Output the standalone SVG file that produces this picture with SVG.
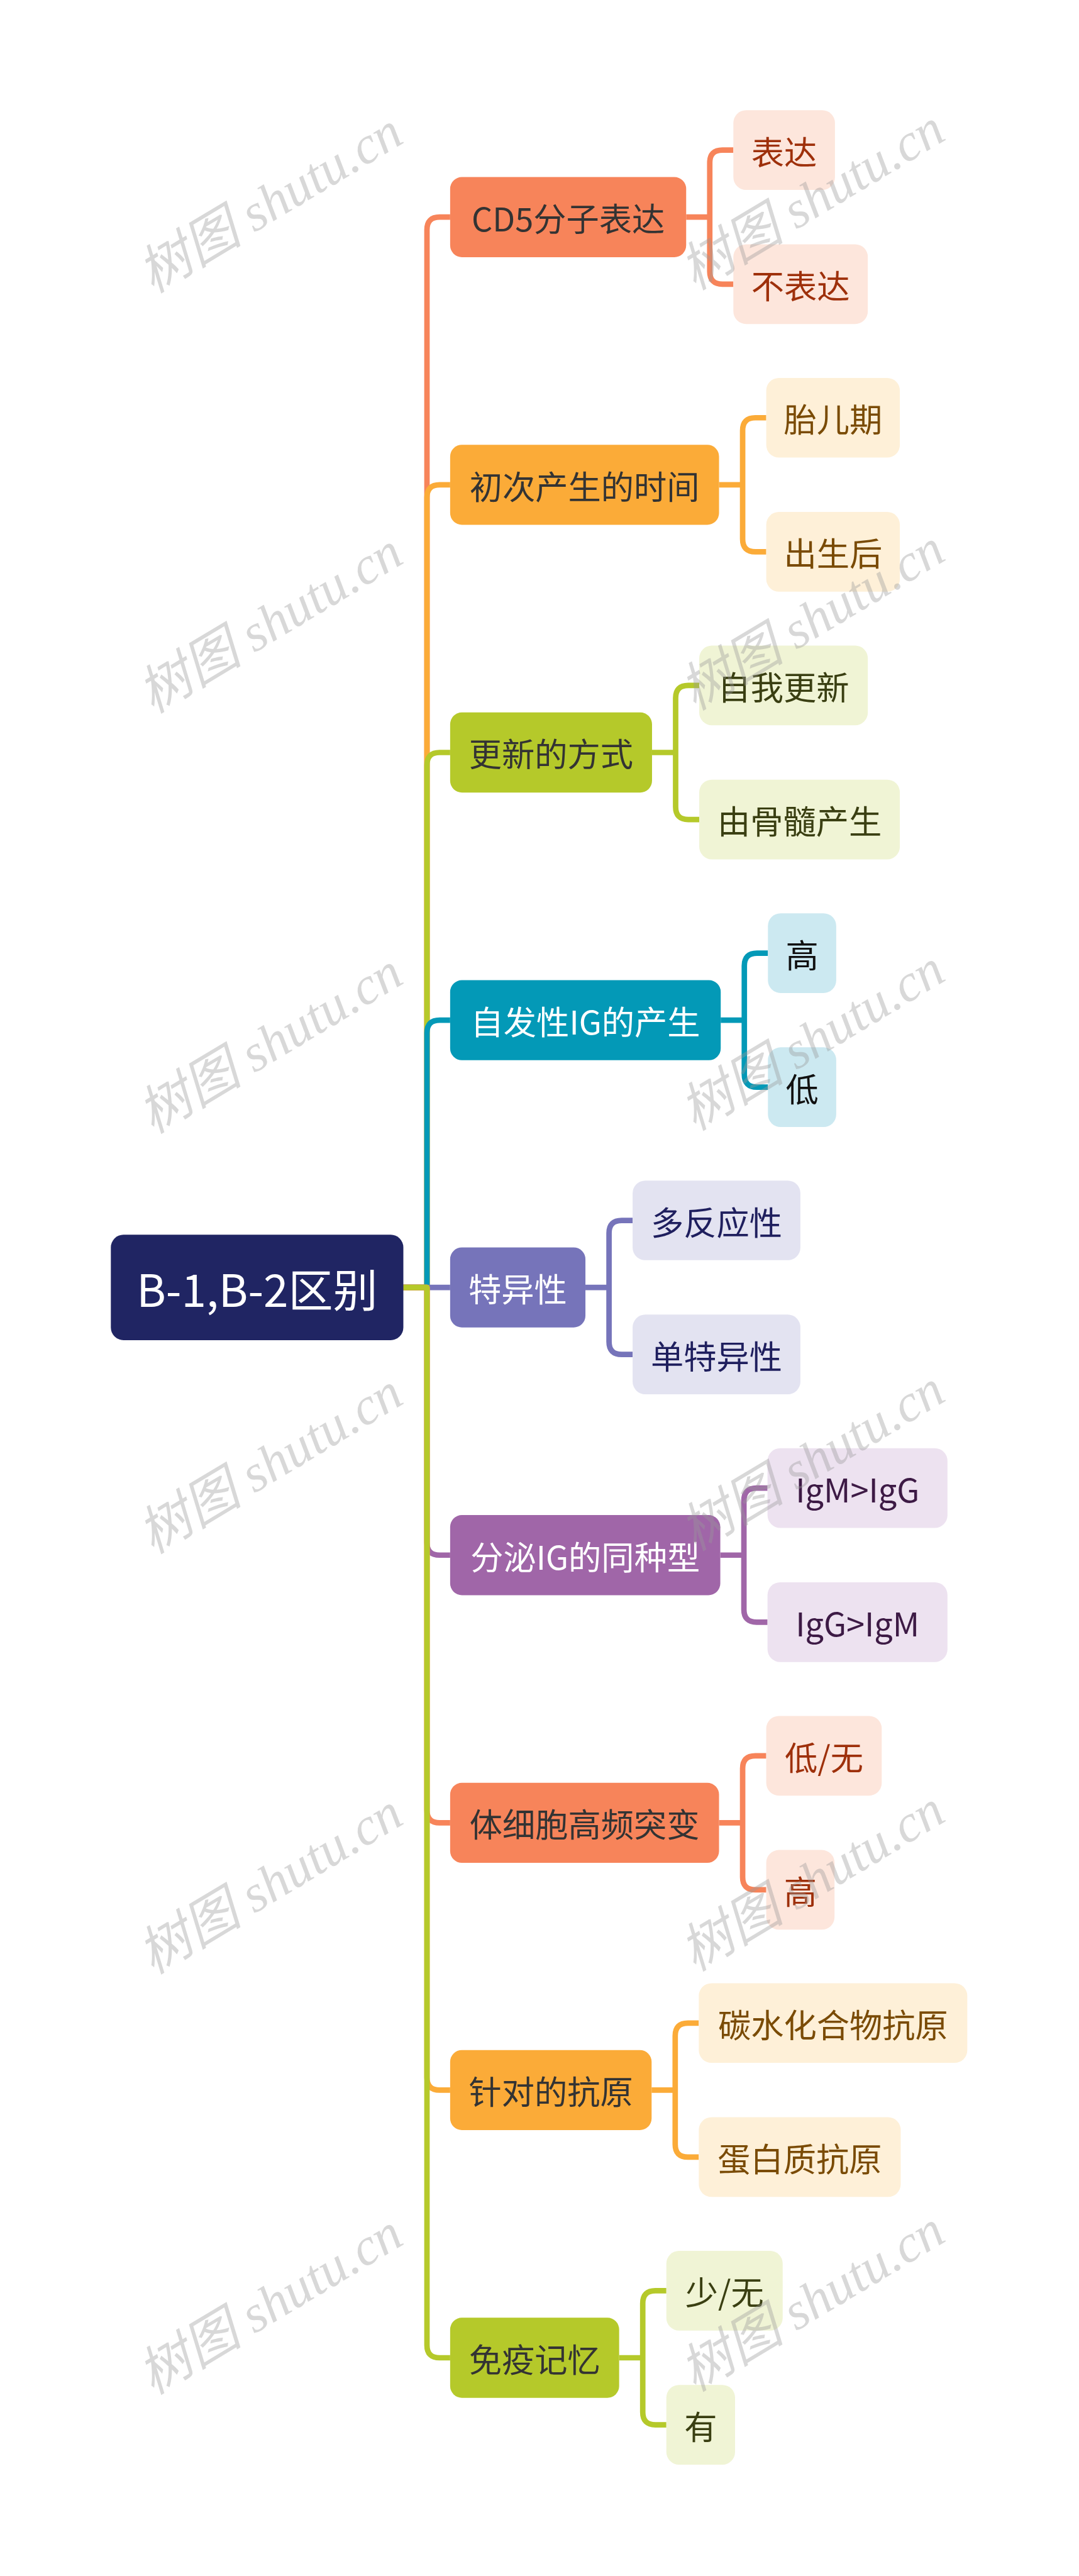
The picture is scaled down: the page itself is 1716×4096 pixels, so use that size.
<svg xmlns="http://www.w3.org/2000/svg" width="1716" height="4096" viewBox="0 0 1716 4096">
<style>
.t{font-family:"Noto Sans CJK SC","Noto Sans",sans-serif;text-anchor:middle;dominant-baseline:central;font-size:78px}
.r{font-size:106px;fill:#ffffff}
.c{fill:none;stroke-width:13;stroke-linejoin:round}
.dk{fill:#333333}
.w{fill:#ffffff}
.o{stroke:#f7845a}.y{stroke:#fbab38}.g{stroke:#b5c92a}.tl{stroke:#0399b7}.b{stroke:#7674ba}.p{stroke:#a066a8}
.co{fill:#fde6dc}.cy{fill:#fef0d8}.cg{fill:#f0f4d5}.ct{fill:#cce9f1}.cb{fill:#e3e3f1}.cp{fill:#ede2f0}
.to{fill:#9e300b}.ty{fill:#7a4b05}.tg{fill:#3a3f12}.tt{fill:#111111}.tb{fill:#1f1f5e}.tp{fill:#3d1a45}
.wm{font-family:"Liberation Serif","Noto Sans CJK SC",serif;font-style:italic;font-size:125px;fill:#9a9a9a;opacity:.38}
</style>
<rect width="1716" height="4096" fill="#ffffff"/>
<g transform="scale(0.6703)">
<g id="connectors">
<path class="c o" d="M957,3054 H1013 V545 Q1013,515 1043,515 H1068"/>
<path class="c y" d="M957,3054 H1013 V1180 Q1013,1150 1043,1150 H1068"/>
<path class="c g" d="M957,3054 H1013 V1815 Q1013,1785 1043,1785 H1068"/>
<path class="c tl" d="M957,3054 H1013 V2450 Q1013,2420 1043,2420 H1068"/>
<path class="c b" d="M957,3054 H1068"/>
<path class="c p" d="M957,3054 H1013 V3659 Q1013,3689 1043,3689 H1068"/>
<path class="c o" d="M957,3054 H1013 V4294 Q1013,4324 1043,4324 H1068"/>
<path class="c y" d="M957,3054 H1013 V4928 Q1013,4958 1043,4958 H1068"/>
<path class="c g" d="M957,3054 H1013 V5563 Q1013,5593 1043,5593 H1068"/>

<path class="c o" d="M1628,515 H1684 V386 Q1684,356 1714,356 H1740 M1684,515 V644 Q1684,674 1714,674 H1740"/>
<path class="c y" d="M1706,1150 H1762 V1021 Q1762,991 1792,991 H1818 M1762,1150 V1279 Q1762,1309 1792,1309 H1818"/>
<path class="c g" d="M1547,1785 H1603 V1656 Q1603,1626 1633,1626 H1659 M1603,1785 V1914 Q1603,1944 1633,1944 H1659"/>
<path class="c tl" d="M1710,2420 H1766 V2291 Q1766,2261 1796,2261 H1822 M1766,2420 V2549 Q1766,2579 1796,2579 H1822"/>
<path class="c b" d="M1389,3054 H1445 V2925 Q1445,2895 1475,2895 H1501 M1445,3054 V3183 Q1445,3213 1475,3213 H1501"/>
<path class="c p" d="M1709,3689 H1765 V3560 Q1765,3530 1795,3530 H1821 M1765,3689 V3818 Q1765,3848 1795,3848 H1821"/>
<path class="c o" d="M1706,4324 H1762 V4195 Q1762,4165 1792,4165 H1818 M1762,4324 V4453 Q1762,4483 1792,4483 H1818"/>
<path class="c y" d="M1546,4958 H1602 V4829 Q1602,4799 1632,4799 H1658 M1602,4958 V5087 Q1602,5117 1632,5117 H1658"/>
<path class="c g" d="M1469,5593 H1525 V5464 Q1525,5434 1555,5434 H1581 M1525,5593 V5722 Q1525,5752 1555,5752 H1581"/>
</g>

<g id="root"><rect x="263" y="2929" width="694" height="250" rx="30" fill="#202563"/><text class="t r" x="610" y="3054">B-1,B-2区别</text></g>

<g id="n1"><rect x="1068" y="420" width="560" height="190" rx="28" fill="#f7845a"/><text class="t dk" x="1348" y="515">CD5分子表达</text></g>
<g id="n1a"><rect class="co" x="1740" y="261.5" width="241" height="189" rx="30"/><text class="t to" x="1860.5" y="356">表达</text></g>
<g id="n1b"><rect class="co" x="1740" y="579.5" width="319" height="189" rx="30"/><text class="t to" x="1899.5" y="674">不表达</text></g>

<g id="n2"><rect x="1068" y="1055" width="638" height="190" rx="28" fill="#fbab38"/><text class="t dk" x="1387" y="1150">初次产生的时间</text></g>
<g id="n2a"><rect class="cy" x="1818" y="896.5" width="317" height="189" rx="30"/><text class="t ty" x="1976.5" y="991">胎儿期</text></g>
<g id="n2b"><rect class="cy" x="1818" y="1214.5" width="317" height="189" rx="30"/><text class="t ty" x="1976.5" y="1309">出生后</text></g>

<g id="n3"><rect x="1068" y="1690" width="479" height="190" rx="28" fill="#b5c92a"/><text class="t dk" x="1307.5" y="1785">更新的方式</text></g>
<g id="n3a"><rect class="cg" x="1659" y="1531.5" width="400" height="189" rx="30"/><text class="t tg" x="1859" y="1626">自我更新</text></g>
<g id="n3b"><rect class="cg" x="1659" y="1849.5" width="476" height="189" rx="30"/><text class="t tg" x="1897" y="1944">由骨髓产生</text></g>

<g id="n4"><rect x="1068" y="2325" width="642" height="190" rx="28" fill="#0399b7"/><text class="t w" x="1389" y="2420">自发性IG的产生</text></g>
<g id="n4a"><rect class="ct" x="1822" y="2166.5" width="162" height="189" rx="30"/><text class="t tt" x="1903" y="2261">高</text></g>
<g id="n4b"><rect class="ct" x="1822" y="2484.5" width="162" height="189" rx="30"/><text class="t tt" x="1903" y="2579">低</text></g>

<g id="n5"><rect x="1068" y="2959" width="321" height="190" rx="28" fill="#7674ba"/><text class="t w" x="1228.5" y="3054">特异性</text></g>
<g id="n5a"><rect class="cb" x="1501" y="2800.5" width="398" height="189" rx="30"/><text class="t tb" x="1700" y="2895">多反应性</text></g>
<g id="n5b"><rect class="cb" x="1501" y="3118.5" width="398" height="189" rx="30"/><text class="t tb" x="1700" y="3213">单特异性</text></g>

<g id="n6"><rect x="1068" y="3594" width="641" height="190" rx="28" fill="#a066a8"/><text class="t w" x="1388.5" y="3689">分泌IG的同种型</text></g>
<g id="n6a"><rect class="cp" x="1821" y="3435.5" width="427" height="189" rx="30"/><text class="t tp" x="2034.5" y="3530">IgM&gt;IgG</text></g>
<g id="n6b"><rect class="cp" x="1821" y="3753.5" width="427" height="189" rx="30"/><text class="t tp" x="2034.5" y="3848">IgG&gt;IgM</text></g>

<g id="n7"><rect x="1068" y="4229" width="638" height="190" rx="28" fill="#f7845a"/><text class="t dk" x="1387" y="4324">体细胞高频突变</text></g>
<g id="n7a"><rect class="co" x="1818" y="4070.5" width="274" height="189" rx="30"/><text class="t to" x="1955" y="4165">低/无</text></g>
<g id="n7b"><rect class="co" x="1818" y="4388.5" width="162" height="189" rx="30"/><text class="t to" x="1899" y="4483">高</text></g>

<g id="n8"><rect x="1068" y="4863" width="478" height="190" rx="28" fill="#fbab38"/><text class="t dk" x="1307" y="4958">针对的抗原</text></g>
<g id="n8a"><rect class="cy" x="1658" y="4704.5" width="637" height="189" rx="30"/><text class="t ty" x="1976.5" y="4799">碳水化合物抗原</text></g>
<g id="n8b"><rect class="cy" x="1658" y="5022.5" width="479" height="189" rx="30"/><text class="t ty" x="1897.5" y="5117">蛋白质抗原</text></g>

<g id="n9"><rect x="1068" y="5498" width="401" height="190" rx="28" fill="#b5c92a"/><text class="t dk" x="1268.5" y="5593">免疫记忆</text></g>
<g id="n9a"><rect class="cg" x="1581" y="5339.5" width="276" height="189" rx="30"/><text class="t tg" x="1719" y="5434">少/无</text></g>
<g id="n9b"><rect class="cg" x="1581" y="5657.5" width="163" height="189" rx="30"/><text class="t tg" x="1662.5" y="5752">有</text></g>

<g id="watermarks">
<text class="wm" transform="translate(362,697) rotate(-31)">树图 shutu.cn</text>
<text class="wm" transform="translate(362,1694) rotate(-31)">树图 shutu.cn</text>
<text class="wm" transform="translate(362,2691) rotate(-31)">树图 shutu.cn</text>
<text class="wm" transform="translate(362,3688) rotate(-31)">树图 shutu.cn</text>
<text class="wm" transform="translate(362,4685) rotate(-31)">树图 shutu.cn</text>
<text class="wm" transform="translate(362,5682) rotate(-31)">树图 shutu.cn</text>
<text class="wm" transform="translate(1648,690) rotate(-31)">树图 shutu.cn</text>
<text class="wm" transform="translate(1648,1687) rotate(-31)">树图 shutu.cn</text>
<text class="wm" transform="translate(1648,2684) rotate(-31)">树图 shutu.cn</text>
<text class="wm" transform="translate(1648,3681) rotate(-31)">树图 shutu.cn</text>
<text class="wm" transform="translate(1648,4678) rotate(-31)">树图 shutu.cn</text>
<text class="wm" transform="translate(1648,5675) rotate(-31)">树图 shutu.cn</text>
</g>
</g>
</svg>
